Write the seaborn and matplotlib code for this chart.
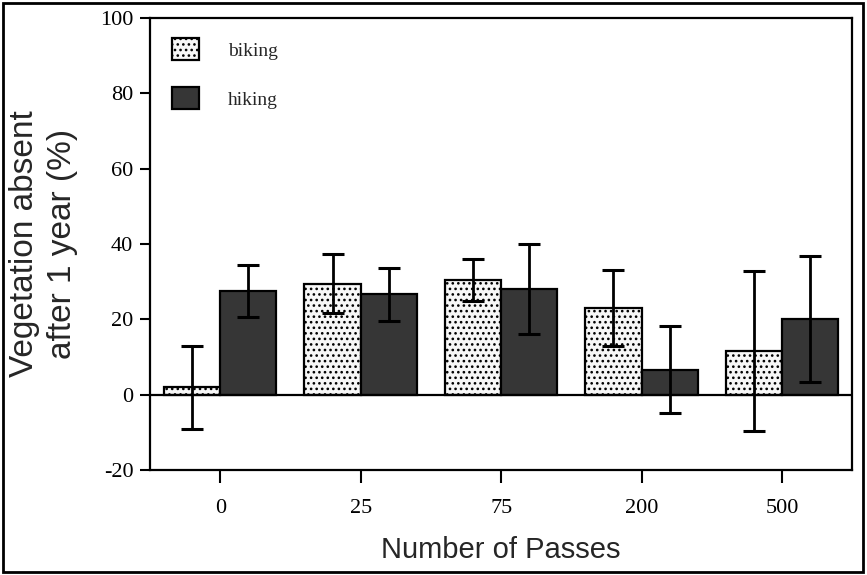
import matplotlib
matplotlib.use("Agg")
import matplotlib.pyplot as plt
import seaborn as sns
import pandas as pd
from matplotlib.patches import Rectangle

# ---- data ----
passes = ["0", "25", "75", "200", "500"]
activities = ["biking", "hiking"]
biking = [2.0, 29.5, 30.5, 23.0, 11.6]
hiking = [27.5, 26.6, 28.0, 6.6, 20.0]
biking_err = [11.0, 7.8, 5.5, 10.0, 21.3]
hiking_err = [7.0, 7.0, 12.0, 11.5, 16.7]
yticks = [-20, 0, 20, 40, 60, 80, 100]

df = pd.DataFrame({
    "Passes": passes * 2,
    "Activity": ["biking"] * len(passes) + ["hiking"] * len(passes),
    "Value": biking + hiking,
    "Err": biking_err + hiking_err,
})

sns.set_style("ticks")
plt.rcParams["font.family"] = ["Liberation Serif", "DejaVu Serif"]
plt.rcParams["hatch.linewidth"] = 1.1
plt.rcParams["hatch.color"] = "#8a8a8a"

fig = plt.figure(figsize=(8.67, 5.75), dpi=100)
ax = fig.add_axes([0.173, 0.1826, 0.810, 0.7861])

sns.barplot(data=df, x="Passes", y="Value", hue="Activity", order=passes,
            hue_order=activities, errorbar=None, width=0.8, ax=ax,
            palette={"biking": "#f7f7f7", "hiking": "#363636"},
            edgecolor="black", linewidth=1.6, saturation=1, zorder=2)

errs = {"biking": biking_err, "hiking": hiking_err}
vals = {"biking": biking, "hiking": hiking}
for cont, act in zip(ax.containers, activities):
    xs = []
    for p in cont.patches:
        if act == "biking":
            p.set_hatch("...")
            p.set_facecolor("#f7f7f7")
        else:
            p.set_facecolor("#363636")
        p.set_edgecolor("black")
        xs.append(p.get_x() + p.get_width() / 2)
    ax.errorbar(xs, vals[act], yerr=errs[act], fmt="none", ecolor="black",
                elinewidth=2.0, capsize=8, capthick=2.2, zorder=4)

ax.axhline(0, color="black", lw=1.6, zorder=3)

ax.set_xlim(-0.5, 4.5)
ax.set_ylim(-20, 100)
ax.set_yticks(yticks)
ax.set_yticklabels([str(t) for t in yticks])

for s in ax.spines.values():
    s.set_visible(True)
    s.set_linewidth(1.6)
    s.set_color("black")

ax.tick_params(axis="y", direction="out", length=7, width=1.5, pad=5,
               labelsize=16, colors="black")
ax.tick_params(axis="x", direction="out", length=9, width=1.5, pad=12,
               labelsize=16, colors="black")

sans = ["Liberation Sans", "DejaVu Sans"]
ax.set_xlabel("Number of Passes", fontsize=21, family=sans)
ax.xaxis.set_label_coords(0.5, -0.177)
ax.xaxis.label.set_va("center")
ax.set_ylabel("Vegetation absent\nafter 1 year (%)", fontsize=24, family=sans,
              linespacing=1.3)
ax.yaxis.set_label_coords(-0.152, 0.5)
ax.yaxis.label.set_va("center")

handles = [ax.containers[0].patches[1], ax.containers[1].patches[0]]
ax.legend(handles=handles, labels=activities, loc="upper left",
          bbox_to_anchor=(0.032, 0.955), frameon=False, fontsize=14,
          handlelength=1.35, handleheight=1.35, handletextpad=1.5,
          labelspacing=1.4, borderpad=0, borderaxespad=0)

fig.patches.append(Rectangle((0.004, 0.005), 0.991, 0.99, transform=fig.transFigure,
                             fill=False, edgecolor="black", lw=2, zorder=10))

fig.savefig("out.png", dpi=100)
